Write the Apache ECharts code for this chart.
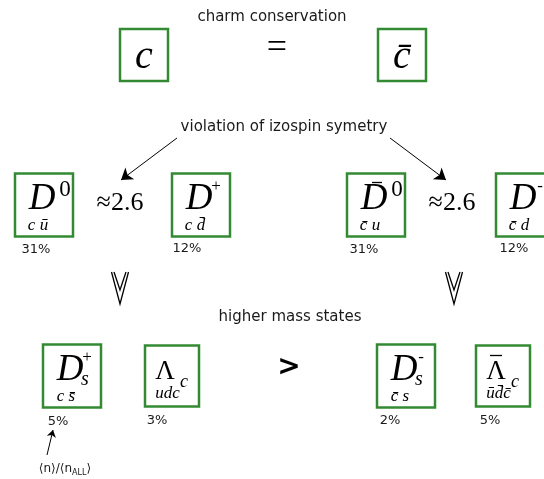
<!DOCTYPE html>
<html>
<head>
<meta charset="UTF-8">
<title>charm</title>
<style>
html, body { margin: 0; padding: 0; background: #fff; }
#main { width: 544px; height: 479px; }
</style>
</head>
<body>
<div id="main"></div>
<script src="https://cdn.jsdelivr.net/npm/echarts@6/dist/echarts.min.js"></script>
<script>
// hadron boxes, centre of each box in picture units
var boxNames  = ['c', 'cbar', 'D0', 'Dplus', 'D0bar', 'Dminus', 'Dsplus', 'Lc', 'Dsminus', 'Lcbar'];
var boxX      = [144, 402, 44, 201, 376, 525, 72, 172, 406, 503];
var boxY      = [55, 55, 205, 205, 205, 205, 376, 376, 376, 376];
var boxMain   = ['c', 'c\u0304', 'D', 'D', 'D', 'D', 'D', '\u039b', 'D', '\u039b'];
var boxAnti   = [false, true, false, false, true, false, false, false, false, true];
var boxSup    = ['', '', '0', '+', '0', '-', '+', '', '-', ''];
var boxSub    = ['', '', '', '', '', '', 's', 'c', 's', 'c'];
var boxQuarks = ['', '', 'c \u016b', 'c d\u0304', 'c\u0304 u', 'c\u0304 d', 'c s\u0304', 'udc', 'c\u0304 s', '\u016bd\u0304c\u0304'];

// <n>/<n_ALL> shares
var shares = ['31%', '12%', '31%', '12%', '5%', '3%', '2%', '5%'];
var shareX = [36, 187, 364, 514, 58, 157, 390, 490];
var shareY = [250, 249, 250, 249, 422, 421, 421, 421];

// other texts
var noteText = ['charm conservation', 'violation of izospin symetry', 'higher mass states', '=', '\u22482.6', '\u22482.6', '>', '{a|\u27e8n\u27e9/\u27e8n}{b|ALL}{a|\u27e9}'];
var noteKind = ['label', 'label', 'label', 'eq', 'approx', 'approx', 'gt', 'small'];
var noteX = [272, 284, 290, 277, 120, 452, 289, 65];
var noteY = [17, 127, 317, 49, 203, 203, 368, 467];

// arrows
var bigArrows = [[[177, 138], [121, 180]], [[390, 138], [446, 180]]];
var smallArrows = [[[47, 455], [53, 430]]];
var chevronX = [120, 454];
var chevronTop = 272;

var serif = '"Liberation Serif", "DejaVu Serif", serif';
var sans = '"DejaVu Sans", sans-serif';

var noteFont = {
    label: '15px ' + sans,
    eq: '36px ' + serif,
    approx: '26px ' + serif,
    gt: 'bold 28px ' + sans,
    small: '12px ' + sans
};

function txt(s, x, y, font) {
    return {
        type: 'text',
        style: { text: s, x: x, y: y, font: font, fill: '#000', align: 'center', verticalAlign: 'middle' }
    };
}

function bar(x1, x2, y) {
    return { type: 'line', shape: { x1: x1, y1: y, x2: x2, y2: y }, style: { stroke: '#000', lineWidth: 1.3 } };
}

function renderBox(params, api) {
    var i = api.value(2);
    var p = api.coord([api.value(0), api.value(1)]);
    var top = i < 2;
    var lam = boxMain[i] === '\u039b';
    var w = top ? 48 : (lam ? 54 : 58);
    var h = top ? 52 : (lam ? 61 : 63);
    var x0 = p[0] - w / 2, y0 = p[1] - h / 2;
    var kids = [{
        type: 'rect',
        shape: { x: x0, y: y0, width: w, height: h },
        style: { fill: '#fff', stroke: '#338a33', lineWidth: 2.5 }
    }];
    if (top) {
        kids.push(txt(boxMain[i], p[0], p[1] + 2, 'italic 40px ' + serif));
    } else if (lam) {
        kids.push(txt(boxMain[i], x0 + 20, y0 + 26, '27px ' + serif));
        if (boxAnti[i]) kids.push(bar(x0 + 14, x0 + 26, y0 + 10));
        kids.push(txt(boxQuarks[i], x0 + 22.5, y0 + 48, 'italic 17px ' + serif));
        kids.push(txt(boxSub[i], x0 + 39, y0 + 37, 'italic 18px ' + serif));
    } else {
        kids.push(txt(boxMain[i], x0 + 27, y0 + 26, 'italic 37px ' + serif));
        if (boxAnti[i]) kids.push(bar(x0 + 25, x0 + 35, y0 + 9));
        var digit = boxSup[i] === '0';
        kids.push(txt(boxSup[i], x0 + (digit ? 50 : 44), y0 + (digit ? 16 : 13), (digit ? '23px ' : '17px ') + serif));
        if (boxSub[i]) kids.push(txt(boxSub[i], x0 + 42, y0 + 35, 'italic 20px ' + serif));
        kids.push(txt(boxQuarks[i], x0 + 23, y0 + 52.5, 'italic 17px ' + serif));
    }
    return { type: 'group', children: kids };
}

function renderNote(params, api) {
    var i = api.value(2);
    var p = api.coord([api.value(0), api.value(1)]);
    var kind = noteKind[i];
    var el = txt(noteText[i], p[0], p[1], noteFont[kind]);
    if (kind === 'label' || kind === 'small') el.style.fill = '#1a1a1a';
    if (kind === 'small') {
        el.style.rich = {
            a: { fontSize: 12, fontFamily: 'DejaVu Sans', lineHeight: 15, verticalAlign: 'bottom' },
            b: { fontSize: 8, fontFamily: 'DejaVu Sans', lineHeight: 15, verticalAlign: 'bottom', padding: [0, 0, -2, 0] }
        };
    }
    return el;
}

function renderShare(params, api) {
    var p = api.coord([api.value(0), api.value(1)]);
    var el = txt(shares[api.value(2)], p[0], p[1], '13px ' + sans);
    el.style.fill = '#1a1a1a';
    return el;
}

var boxData = boxNames.map(function (n, i) { return [boxX[i], boxY[i], i]; });
var noteData = noteText.map(function (n, i) { return [noteX[i], noteY[i], i]; });
var shareData = shares.map(function (n, i) { return [shareX[i], shareY[i], i]; });
var chevronData = [];
chevronX.forEach(function (cx) {
    chevronData.push({ coords: [[cx - 8.5, chevronTop], [cx, chevronTop + 32], [cx + 8.5, chevronTop]] });
    chevronData.push({ coords: [[cx - 6, chevronTop], [cx, chevronTop + 18], [cx + 6, chevronTop]] });
});

var chart = echarts.init(document.getElementById('main'));
chart.setOption({
    animation: false,
    grid: { left: 0, right: 0, top: 0, bottom: 0 },
    xAxis: { type: 'value', min: 0, max: 544, show: false },
    yAxis: { type: 'value', min: 0, max: 479, inverse: true, show: false },
    series: [
        {
            type: 'lines', coordinateSystem: 'cartesian2d',
            symbol: ['none', 'arrow'], symbolSize: 11,
            lineStyle: { color: '#000', width: 1, opacity: 1 },
            data: bigArrows.map(function (c) { return { coords: c }; })
        },
        {
            type: 'lines', coordinateSystem: 'cartesian2d',
            symbol: ['none', 'arrow'], symbolSize: 7,
            lineStyle: { color: '#000', width: 1, opacity: 1 },
            data: smallArrows.map(function (c) { return { coords: c }; })
        },
        {
            type: 'lines', coordinateSystem: 'cartesian2d', polyline: true,
            lineStyle: { color: '#000', width: 1.3, opacity: 1 },
            data: chevronData
        },
        { type: 'custom', coordinateSystem: 'cartesian2d', renderItem: renderBox, data: boxData },
        { type: 'custom', coordinateSystem: 'cartesian2d', renderItem: renderNote, data: noteData },
        { type: 'custom', coordinateSystem: 'cartesian2d', renderItem: renderShare, data: shareData }
    ]
});
</script>
</body>
</html>
